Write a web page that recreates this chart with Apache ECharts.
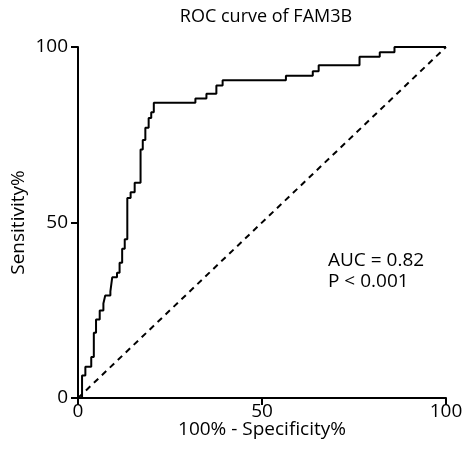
<!DOCTYPE html>
<html>
<head>
<meta charset="utf-8">
<script src="https://cdn.jsdelivr.net/npm/echarts@6/dist/echarts.min.js"></script>
<style>
  html, body { margin: 0; padding: 0; background: #fff; }
  #chart { width: 464px; height: 461px; }
</style>
</head>
<body>
<div id="chart"></div>
<script>
// ROC vertices: 100% - specificity (x) and sensitivity (y)
const fpr = [0, 1.1, 2.0, 3.6, 4.3, 4.9, 5.9, 6.9, 7.4, 8.8, 9.3, 10.6, 11.3, 12.0, 12.7, 13.4, 14.3, 15.4, 17.0, 17.6, 18.3, 19.2, 19.9, 20.6, 31.9, 34.9, 37.6, 39.3, 56.5, 63.8, 65.4, 76.5, 82.0, 86.0, 100];
const sens = [0, 6.4, 8.9, 11.7, 18.6, 22.4, 24.9, 26.9, 29.2, 30.4, 34.4, 35.7, 38.5, 42.5, 45.2, 57.0, 58.6, 61.3, 70.8, 73.5, 77.0, 79.8, 81.4, 84.1, 85.3, 86.7, 89.0, 90.5, 91.8, 93.1, 94.8, 97.2, 98.5, 100, 100];
const refX = [0, 100];
const refY = [0, 100];
const tickVals = [0, 50, 100];
const titleText = 'ROC curve of FAM3B';
const statLines = ['AUC = 0.82', 'P < 0.001'];

const font = '"Open Sans", "Noto Sans", sans-serif';

let chart = echarts.init(document.getElementById('chart'));

let axisCommon = {
    type: 'value',
    min: 0,
    max: 100,
    interval: 50,
    splitLine: { show: false },
    axisLine: { show: true, lineStyle: { color: '#000', width: 2 } },
    axisTick: { show: true, length: 7, lineStyle: { color: '#000', width: 2 } },
    axisLabel: {
        color: '#000', fontSize: 19, fontFamily: font,
        formatter: (v) => tickVals.includes(v) ? String(v) : ''
    },
    nameLocation: 'middle',
    nameMoveOverlap: false,
    nameTextStyle: { color: '#000', fontSize: 19, fontFamily: font }
};

let option = {
    animation: false,
    backgroundColor: '#fff',
    title: {
        text: titleText,
        left: 261,
        top: 3,
        textAlign: 'center',
        textStyle: { color: '#000', fontSize: 18, fontWeight: 'normal', fontFamily: font }
    },
    grid: { left: 78, right: 18, top: 47, bottom: 63, outerBoundsMode: 'none' },
    xAxis: Object.assign({}, axisCommon, {
        name: '100% - Specificity%',
        nameGap: 22,
        axisLabel: Object.assign({}, axisCommon.axisLabel, { margin: 4 })
    }),
    yAxis: Object.assign({}, axisCommon, {
        name: 'Sensitivity%',
        nameGap: 50,
        axisLabel: Object.assign({}, axisCommon.axisLabel, { margin: 10 })
    }),
    graphic: [{
        type: 'text',
        left: 328,
        top: 250,
        style: {
            text: statLines.join('\n'),
            fill: '#000',
            font: '19px ' + font,
            lineHeight: 21
        }
    }],
    series: [
        {
            type: 'line',
            data: refX.map((x, i) => [x, refY[i]]),
            symbol: 'none',
            lineStyle: { color: '#000', width: 2, type: [6, 5] },
            z: 1
        },
        {
            type: 'line',
            data: fpr.map((x, i) => [x, sens[i]]),
            step: 'end',
            symbol: 'none',
            lineStyle: { color: '#000', width: 2 },
            z: 2
        }
    ]
};

chart.setOption(option);
</script>
</body>
</html>
